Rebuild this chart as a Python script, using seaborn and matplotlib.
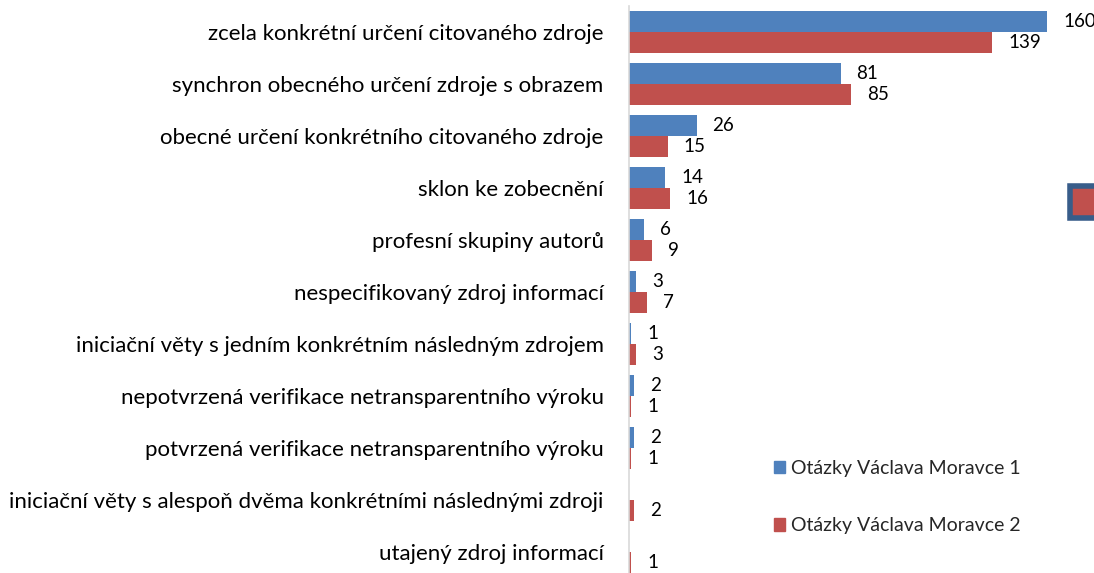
import pandas as pd
import matplotlib.pyplot as plt
import matplotlib.patches as mpatches
import seaborn as sns

# Data
categories = [
    "zcela konkrétní určení citovaného zdroje",
    "synchron obecného určení zdroje s obrazem",
    "obecné určení konkrétního citovaného zdroje",
    "sklon ke zobecnění",
    "profesní skupiny autorů",
    "nespecifikovaný zdroj informací",
    "iniciační věty s jedním konkrétním následným zdrojem",
    "nepotvrzená verifikace netransparentního výroku",
    "potvrzená verifikace netransparentního výroku",
    "iniciační věty s alespoň dvěma konkrétními následnými zdroji",
    "utajený zdroj informací",
]
series_names = ["Otázky Václava Moravce 1", "Otázky Václava Moravce 2"]
values_1 = [160, 81, 26, 14, 6, 3, 1, 2, 2, 0, 0]
values_2 = [139, 85, 15, 16, 9, 7, 3, 1, 1, 2, 1]
colors = ["#4F81BD", "#C0504D"]

df = pd.DataFrame({
    "kategorie": categories * 2,
    "serie": [series_names[0]] * len(categories) + [series_names[1]] * len(categories),
    "pocet": values_1 + values_2,
})

sns.set_style("white")
plt.rcParams['font.family'] = ['Lato', 'DejaVu Sans']

fig = plt.figure(figsize=(10.94, 5.73), dpi=100)
ax = fig.add_axes([0.5745, -0.0087, 0.3828, 0.9982])

sns.barplot(data=df, y="kategorie", x="pocet", hue="serie", palette=colors,
            orient="h", width=0.8, saturation=1, linewidth=0, ax=ax, legend=False)

ax.set_xlim(0, 160)
ax.set_xlabel("")
ax.set_ylabel("")
ax.set_xticks([])
ax.tick_params(axis="y", length=0, pad=18, labelsize=16, labelcolor="black")
for side in ["top", "right", "bottom"]:
    ax.spines[side].set_visible(False)
ax.spines["left"].set_color("#D9D9D9")
ax.spines["left"].set_linewidth(1.2)

# value labels (zeros are left out)
for cont, vals in zip(ax.containers, [values_1, values_2]):
    ax.bar_label(cont, labels=[str(v) if v else "" for v in vals],
                 padding=11.5, fontsize=13.5, color="black")

# legend
handles = [mpatches.Patch(color=c, label=n) for c, n in zip(colors, series_names)]
fig.legend(handles=handles, loc="upper left", bbox_to_anchor=(0.700, 0.2105),
           frameon=False, fontsize=14, handlelength=0.6, handleheight=0.6,
           handletextpad=0.3, labelspacing=2.06, borderaxespad=0)

# stray clipped box at right edge
fig.patches.append(mpatches.Rectangle((1070 / 1094, 1 - 218 / 573), 30 / 1094, 32 / 573,
                                      transform=fig.transFigure, facecolor="#C0504D",
                                      edgecolor="#385D8A", linewidth=4, clip_on=False))

fig.savefig("out.png", dpi=100)
